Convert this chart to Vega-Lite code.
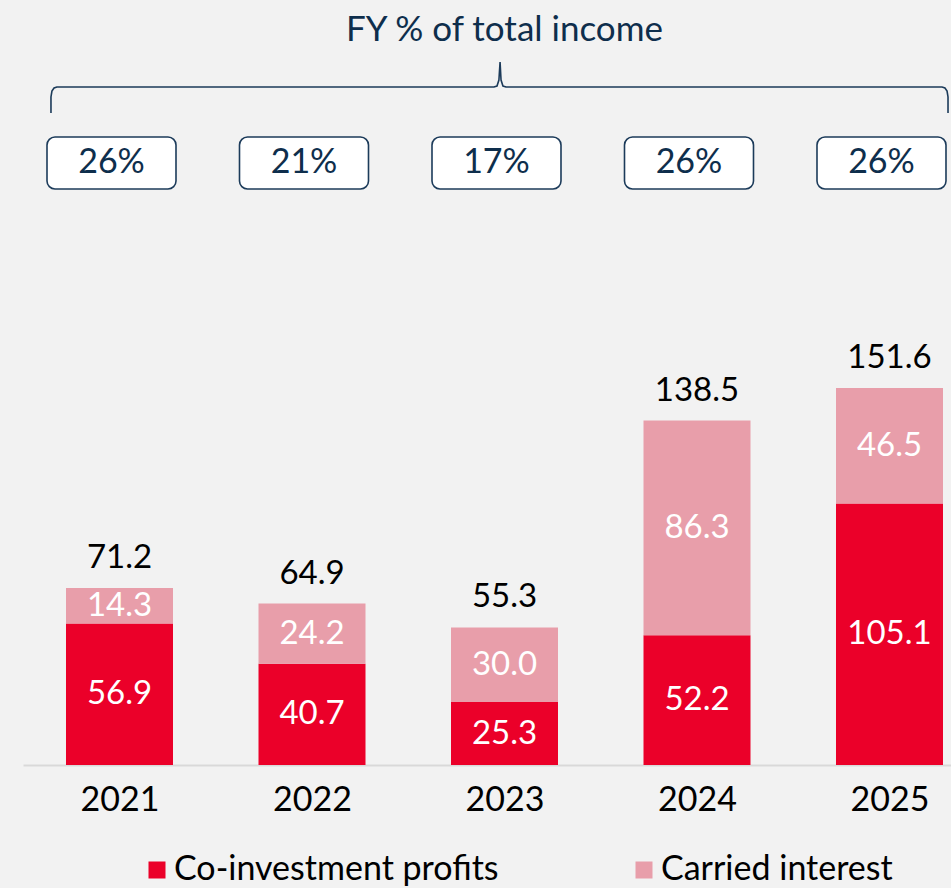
{
  "$schema": "https://vega.github.io/schema/vega-lite/v6.json",
  "width": 928,
  "height": 765,
  "autosize": {"type": "none"},
  "padding": {"left": 23, "top": 0, "right": 0, "bottom": 123},
  "background": "#f2f2f2",
  "config": {
    "view": {"stroke": null},
    "font": "Lato",
    "text": {"font": "Lato"},
    "axisX": {
      "domainColor": "#d9d9d9",
      "domainWidth": 2,
      "ticks": false,
      "grid": false,
      "labelFont": "Lato",
      "labelFontSize": 34,
      "labelColor": "#000000",
      "labelPadding": 18
    },
    "legend": {
      "labelFont": "Lato",
      "labelFontSize": 34,
      "labelColor": "#000000"
    }
  },
  "datasets": {
    "income": [
      {"year": 2021, "series": "Co-investment profits", "value": 56.9},
      {"year": 2021, "series": "Carried interest", "value": 14.3},
      {"year": 2022, "series": "Co-investment profits", "value": 40.7},
      {"year": 2022, "series": "Carried interest", "value": 24.2},
      {"year": 2023, "series": "Co-investment profits", "value": 25.3},
      {"year": 2023, "series": "Carried interest", "value": 30.0},
      {"year": 2024, "series": "Co-investment profits", "value": 52.2},
      {"year": 2024, "series": "Carried interest", "value": 86.3},
      {"year": 2025, "series": "Co-investment profits", "value": 105.1},
      {"year": 2025, "series": "Carried interest", "value": 46.5}
    ],
    "pct": [
      {"year": 2021, "pct": "26%"},
      {"year": 2022, "pct": "21%"},
      {"year": 2023, "pct": "17%"},
      {"year": 2024, "pct": "26%"},
      {"year": 2025, "pct": "26%"}
    ],
    "brace": [
      {"i": 1, "bx": 2020.644, "by": 262.2},
      {"i": 2, "bx": 2020.644, "by": 268.6},
      {"i": 3, "bx": 2020.649, "by": 271.0},
      {"i": 4, "bx": 2020.660, "by": 272.2},
      {"i": 5, "bx": 2020.675, "by": 272.6},
      {"i": 6, "bx": 2022.945, "by": 272.6},
      {"i": 7, "bx": 2022.961, "by": 273.0},
      {"i": 8, "bx": 2022.971, "by": 275.4},
      {"i": 9, "bx": 2022.977, "by": 282.7},
      {"i": 10, "bx": 2022.982, "by": 275.4},
      {"i": 11, "bx": 2022.992, "by": 273.0},
      {"i": 12, "bx": 2023.008, "by": 272.6},
      {"i": 13, "bx": 2025.273, "by": 272.6},
      {"i": 14, "bx": 2025.288, "by": 272.2},
      {"i": 15, "bx": 2025.299, "by": 271.0},
      {"i": 16, "bx": 2025.304, "by": 268.6},
      {"i": 17, "bx": 2025.304, "by": 262.2}
    ]
  },
  "layer": [
    {
      "data": {"name": "brace"},
      "mark": {"type": "line", "color": "#1c3b5a", "strokeWidth": 1.6},
      "encoding": {
        "x": {"field": "bx", "type": "quantitative", "title": null, "scale": {"domain": [2020.4987, 2025.3195], "nice": false, "zero": false, "padding": 0}, "axis": {"values": [2021, 2022, 2023, 2024, 2025], "format": "d"}},
        "y": {"field": "by", "type": "quantitative", "title": null, "scale": {"domain": [0, 307.6], "nice": false, "zero": true, "padding": 0}, "axis": null},
        "order": {"field": "i"}
      }
    },
    {
      "data": {"name": "pct"},
      "mark": {"type": "bar", "size": 129, "xOffset": -8, "fill": "#ffffff", "stroke": "#1c3b5a", "strokeWidth": 1.6, "cornerRadius": 8},
      "encoding": {
        "x": {"field": "year", "type": "quantitative", "title": null},
        "y": {"datum": 252.5},
        "y2": {"datum": 231.6}
      }
    },
    {
      "data": {"name": "pct"},
      "mark": {"type": "text", "xOffset": -8, "fontSize": 34, "color": "#0e2e4c", "baseline": "middle", "align": "center"},
      "encoding": {
        "x": {"field": "year", "type": "quantitative", "title": null},
        "y": {"datum": 242.1},
        "text": {"field": "pct"}
      }
    },
    {
      "data": {"values": [{"label": "FY % of total income"}]},
      "mark": {"type": "text", "fontSize": 35, "color": "#0e2e4c", "baseline": "middle", "align": "center"},
      "encoding": {
        "x": {"datum": 2023.0},
        "y": {"datum": 295.5},
        "text": {"field": "label"}
      }
    },
    {
      "data": {"name": "income"},
      "mark": {"type": "bar", "size": 107},
      "encoding": {
        "x": {"field": "year", "type": "quantitative", "title": null},
        "y": {"field": "value", "type": "quantitative", "stack": "zero", "title": null},
        "color": {
          "field": "series",
          "type": "nominal",
          "scale": {"domain": ["Co-investment profits", "Carried interest"], "range": ["#eb0029", "#e89eaa"]},
          "legend": {
            "title": null,
            "orient": "none",
            "direction": "horizontal",
            "legendX": 117,
            "legendY": 853,
            "symbolType": "square",
            "symbolSize": 289,
            "symbolStrokeWidth": 0,
            "labelOffset": 0,
            "columnPadding": 128,
            "labelLimit": 500,
            "padding": 0
          }
        },
        "order": {"field": "series", "sort": "descending"}
      }
    },
    {
      "data": {"name": "income"},
      "mark": {"type": "text", "fontSize": 33, "color": "#ffffff", "baseline": "middle", "align": "center"},
      "encoding": {
        "x": {"field": "year", "type": "quantitative", "title": null},
        "y": {"field": "value", "type": "quantitative", "stack": "zero", "bandPosition": 0.5, "title": null},
        "detail": {"field": "series"},
        "order": {"field": "series", "sort": "descending"},
        "text": {"field": "value", "format": ".1f"}
      }
    },
    {
      "data": {"name": "income"},
      "mark": {"type": "text", "fontSize": 33, "color": "#000000", "baseline": "alphabetic", "align": "center", "dy": -20},
      "encoding": {
        "x": {"field": "year", "type": "quantitative", "title": null},
        "y": {"aggregate": "sum", "field": "value", "type": "quantitative", "title": null},
        "text": {"aggregate": "sum", "field": "value", "format": ".1f"}
      }
    }
  ]
}
